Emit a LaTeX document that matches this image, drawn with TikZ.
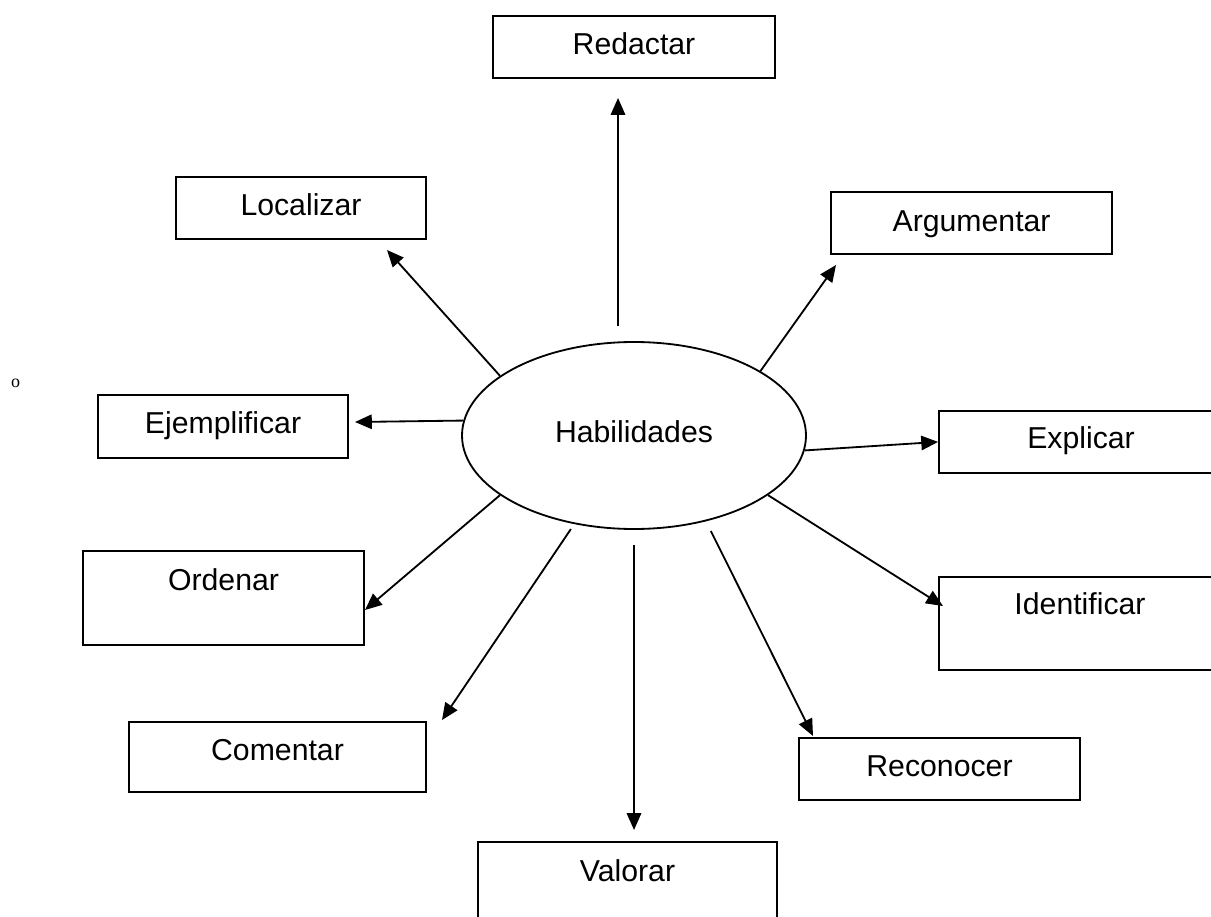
\documentclass[tikz,border=0pt]{standalone}
\usepackage{fontspec}
\setmainfont{Liberation Sans}
\newfontfamily\serifo{Liberation Serif}
\usetikzlibrary{arrows.meta,shapes.geometric}

\tikzset{
  box/.style={draw,line width=1.3pt,inner sep=0pt,anchor=north,text height=0.975cm,text depth=0.575cm},
  arr/.style={line width=1.3pt,-{Triangle[length=0.42cm,width=0.36cm]}}
}

\begin{document}
\begin{tikzpicture}[font=\fontsize{21.5}{26}\selectfont]

\useasboundingbox (0,0) rectangle (30.275,-22.925);

\node[draw,ellipse,line width=1.3pt,inner sep=0pt,minimum width=8.6cm,minimum height=4.675cm,
      text height=0.4cm,text depth=0.075cm] (hab) at (15.85,-10.8875) {Habilidades};

\node[box,minimum width=7.05cm] (red) at (15.85,-0.375) {Redactar};
\node[box,minimum width=6.25cm] (loc) at (7.525,-4.4) {Localizar};
\node[box,minimum width=7.025cm,text height=1cm,text depth=0.55cm] (arg) at (24.29,-4.775) {Argumentar};
\node[box,minimum width=6.25cm,text depth=0.6cm] (ejem) at (5.575,-9.85) {Ejemplificar};
\node[box,minimum width=7.1cm,text height=0.95cm,text depth=0.6cm] (expl) at (27.025,-10.25) {Explicar};
\node[box,minimum width=7.025cm,text height=1cm,text depth=1.35cm] (ord) at (5.5875,-13.75) {Ordenar};
\node[box,minimum width=7.05cm,text height=0.95cm,text depth=1.375cm] (ident) at (27,-14.4) {Identificar};
\node[box,minimum width=7.425cm,text depth=0.775cm] (com) at (6.9375,-18.025) {Comentar};
\node[box,minimum width=7.025cm] (rec) at (23.4875,-18.425) {Reconocer};
\node[box,minimum width=7.475cm,text height=1cm,text depth=1.375cm] (val) at (15.6875,-21.025) {Valorar};

\node[font=\serifo\fontsize{12.8}{14}\selectfont] (mark) at (0.39,-9.575) {o};

% arrow tips
\coordinate (red-tip) at (15.45,-2.45);
\coordinate (loc-tip) at (9.675,-6.25);
\coordinate (arg-tip) at (20.9,-6.625);
\coordinate (ejem-tip) at (8.875,-10.55);
\coordinate (ord-tip) at (9.125,-15.25);
\coordinate (ident-tip) at (23.575,-15.15);
\coordinate (com-tip) at (11.05,-18);
\coordinate (rec-tip) at (20.325,-18.4);
\coordinate (val-tip) at (15.85,-20.75);

\draw[arr,shorten <=0.375cm] (red-tip |- hab.north) -- (red-tip);
\draw[arr] (hab.156) -- (loc-tip);
\draw[arr] (hab.27.5) -- (arg-tip);
\draw[arr] (hab.175) -- (ejem-tip);
\draw[arr] (hab.-5) -- (expl.west);
\draw[arr] (hab.204) -- (ord-tip);
\draw[arr] (hab.-24) -- (ident-tip);
\draw[arr,shorten <=0.15cm] (hab.236.5) -- (com-tip);
\draw[arr,shorten <=0.27cm] (hab.-50) -- (rec-tip);
\draw[arr,shorten <=0.375cm] (hab.south) -- (val-tip);

\end{tikzpicture}
\end{document}
